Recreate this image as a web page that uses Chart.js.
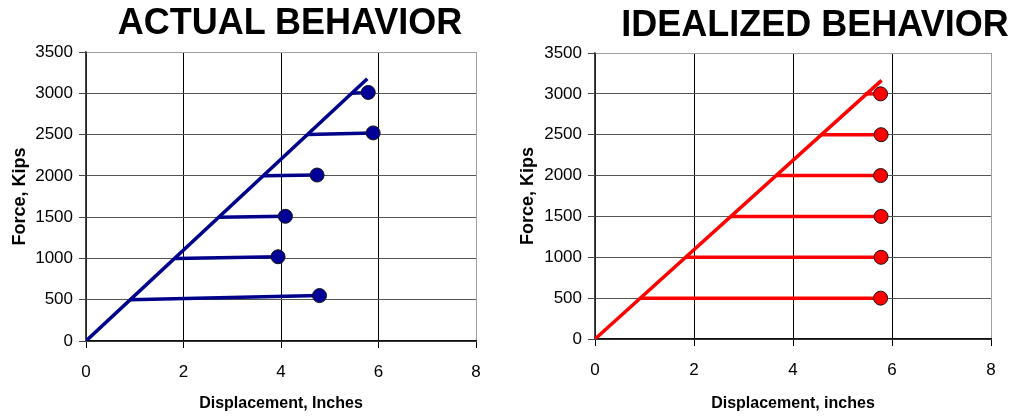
<!DOCTYPE html>
<html lang="en">
<head>
    <meta charset="UTF-8">
    <title>Actual vs Idealized Behavior</title>
    <script src="https://cdn.jsdelivr.net/npm/chart.js"></script>
    <style>
        body {
            margin: 0;
            background: #fff;
            font-family: 'Liberation Sans', Arial, sans-serif;
        }

        .wrap {
            position: relative;
            width: 1016px;
            height: 417px;
        }

        .panel {
            position: absolute;
            top: 0;
            width: 508px;
            height: 417px;
        }

        .panel h1 {
            position: absolute;
            margin: 0;
            font-size: 36px;
            line-height: 1;
            font-weight: 700;
            white-space: nowrap;
            transform: translateX(-50%);
            color: #000;
        }
    </style>
</head>
<body>
    <div class="wrap">
        <div class="panel" style="left:0">
            <h1 style="left:290px; top:4px">ACTUAL BEHAVIOR</h1>
            <canvas id="actualChart" width="508" height="417"></canvas>
        </div>
        <div class="panel" style="left:508px">
            <h1 style="left:307px; top:6px">IDEALIZED BEHAVIOR</h1>
            <canvas id="idealChart" width="508" height="417"></canvas>
        </div>
    </div>

    <script>
        const xTicks = [0, 2, 4, 6, 8];
        const yTicks = [0, 500, 1000, 1500, 2000, 2500, 3000, 3500];

        // actual behavior: elastic line plus one yield branch per load level
        const actualElasticX = [0, 5.77];
        const actualElasticY = [0, 3175];
        const actualYieldX = [0.9, 1.83, 2.73, 3.65, 4.54, 5.45];
        const actualYieldY = [500, 1000, 1500, 2000, 2500, 3000];
        const actualUltimateX = [4.79, 3.94, 4.09, 4.74, 5.89, 5.79];
        const actualUltimateY = [550, 1020, 1510, 2010, 2520, 3010];

        // idealized behavior: every branch runs flat to the same displacement
        const idealElasticX = [0, 5.79];
        const idealElasticY = [0, 3165];
        const idealYieldX = [0.91, 1.82, 2.75, 3.64, 4.56, 5.45];
        const idealYieldY = [500, 1000, 1500, 2000, 2500, 3000];
        const idealUltimateX = [5.77, 5.78, 5.78, 5.77, 5.78, 5.77];
        const idealUltimateY = [500, 1000, 1500, 2000, 2500, 3000];

        function buildDatasets(elX, elY, yX, yY, uX, uY, lineColor, dotColor) {
            const sets = [];
            for (let i = 0; i < yX.length; i++) {
                sets.push({
                    data: [{ x: yX[i], y: yY[i] }, { x: uX[i], y: uY[i] }],
                    showLine: true,
                    borderColor: lineColor,
                    borderWidth: 3.5,
                    pointRadius: [0, 7],
                    pointBackgroundColor: dotColor,
                    pointBorderColor: '#111',
                    pointBorderWidth: 1
                });
            }
            sets.push({
                data: elX.map((x, i) => ({ x: x, y: elY[i] })),
                showLine: true,
                borderColor: lineColor,
                borderWidth: 3.5,
                pointRadius: 0
            });
            return sets;
        }

        function makeChart(id, datasets, xLabel, box) {
            const tickFont = { family: "'Liberation Sans', Arial, sans-serif", size: 17 };
            return new Chart(document.getElementById(id), {
                type: 'scatter',
                data: { datasets: datasets },
                options: {
                    responsive: false,
                    animation: false,
                    devicePixelRatio: 1,
                    layout: { padding: { top: box.top, right: box.right, bottom: 0, left: 0 } },
                    plugins: {
                        legend: { display: false },
                        tooltip: { enabled: false }
                    },
                    scales: {
                        x: {
                            type: 'linear',
                            min: 0,
                            max: 8,
                            afterBuildTicks: s => { s.ticks = xTicks.map(v => ({ value: v })); },
                            afterFit: s => { s.height = box.xHeight; },
                            ticks: { color: '#000', font: tickFont, padding: 14, callback: v => String(v) },
                            grid: {
                                color: c => c.tick && c.tick.value === 8 ? '#a0a0a0' : '#000',
                                tickColor: '#000',
                                tickLength: 7,
                                lineWidth: 1
                            },
                            border: { color: '#111', width: 1.5 },
                            title: {
                                display: true,
                                text: xLabel,
                                color: '#000',
                                font: { family: "'Liberation Sans', Arial, sans-serif", size: 16, weight: 'bold' },
                                padding: { top: 0, bottom: 4 }
                            }
                        },
                        y: {
                            type: 'linear',
                            min: 0,
                            max: 3500,
                            afterBuildTicks: s => { s.ticks = yTicks.map(v => ({ value: v })); },
                            afterFit: s => { s.width = box.yWidth; },
                            ticks: { color: '#000', font: tickFont, padding: 6, callback: v => String(v) },
                            grid: {
                                color: c => c.tick && c.tick.value === 3500 ? '#a0a0a0' : '#555',
                                tickColor: '#444',
                                tickLength: 7,
                                lineWidth: 1
                            },
                            border: { color: '#444', width: 1.5 },
                            title: {
                                display: true,
                                text: 'Force, Kips',
                                color: '#000',
                                font: { family: "'Liberation Sans', Arial, sans-serif", size: 18, weight: 'bold' },
                                padding: { top: 9, bottom: 0 }
                            }
                        }
                    }
                }
            });
        }

        makeChart('actualChart',
            buildDatasets(actualElasticX, actualElasticY, actualYieldX, actualYieldY,
                actualUltimateX, actualUltimateY, '#00008b', '#000099'),
            'Displacement, Inches',
            { top: 52, right: 32, yWidth: 86, xHeight: 76 });

        makeChart('idealChart',
            buildDatasets(idealElasticX, idealElasticY, idealYieldX, idealYieldY,
                idealUltimateX, idealUltimateY, '#ff0000', '#ff0000'),
            'Displacement, inches',
            { top: 53, right: 25, yWidth: 87, xHeight: 78 });
    </script>
</body>
</html>
